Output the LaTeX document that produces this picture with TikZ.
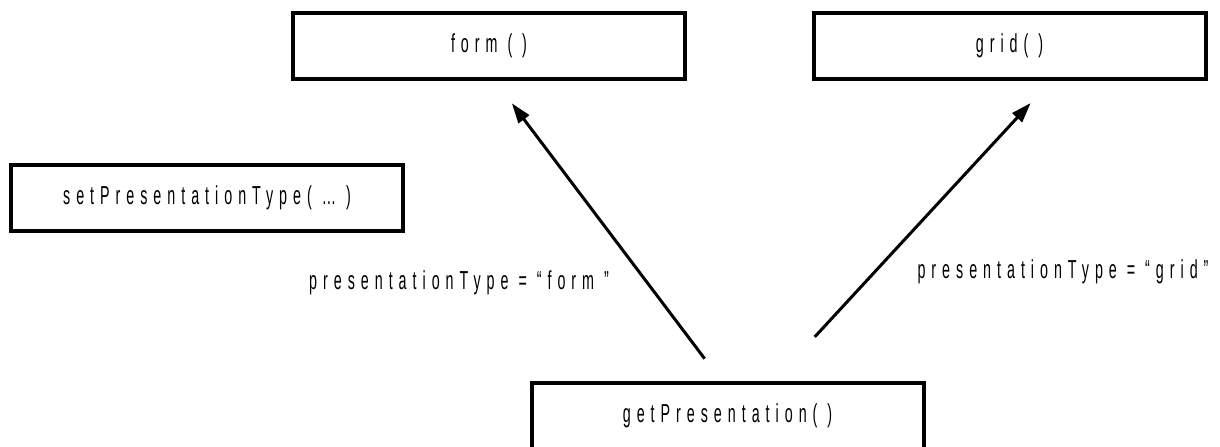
\documentclass[tikz,border=0pt]{standalone}
\usepackage{fontspec}
\setmainfont{Liberation Sans}[FakeStretch=0.55, LetterSpace=23]
\usetikzlibrary{arrows.meta}

\begin{document}
\begin{tikzpicture}[x=0.5pt, y=-0.5pt,
    method/.style={draw, line width=2pt, minimum width=196pt, minimum height=33pt,
      inner sep=0pt, font=\fontsize{13pt}{15pt}\selectfont},
    label/.style={inner sep=0pt, font=\fontsize{13pt}{15pt}\selectfont},
    call/.style={line width=1.5pt, -{Triangle[length=10pt, width=6.5pt]}}]
    \useasboundingbox (0,0) rectangle (1220,446);
    \clip (0,0) rectangle (1220,446);

    \node[method] (form) at (489,46) {form ( )};
    \node[method] (grid) at (1009.5,46) {grid( )};
    \node[method] (settype) at (207,198) {setPresentationType( …  )};
    \node[method] (getp) at (727.5,416) {getPresentation( )};

    \draw[call, shorten <=14pt, shorten >=14pt] ([xshift=-3pt]getp.north) -- ([xshift=3pt]form.south);
    \draw[call, shorten <=30pt, shorten >=15pt] ([xshift=23.25pt]getp.north) -- ([xshift=20.75pt]grid.south);

    \node[label] (formtype) at (459,283) {presentationType = “form ”};
    \node[label] (gridtype) at (1063,272) {presentationType = “grid”};
  \end{tikzpicture}
\end{document}
